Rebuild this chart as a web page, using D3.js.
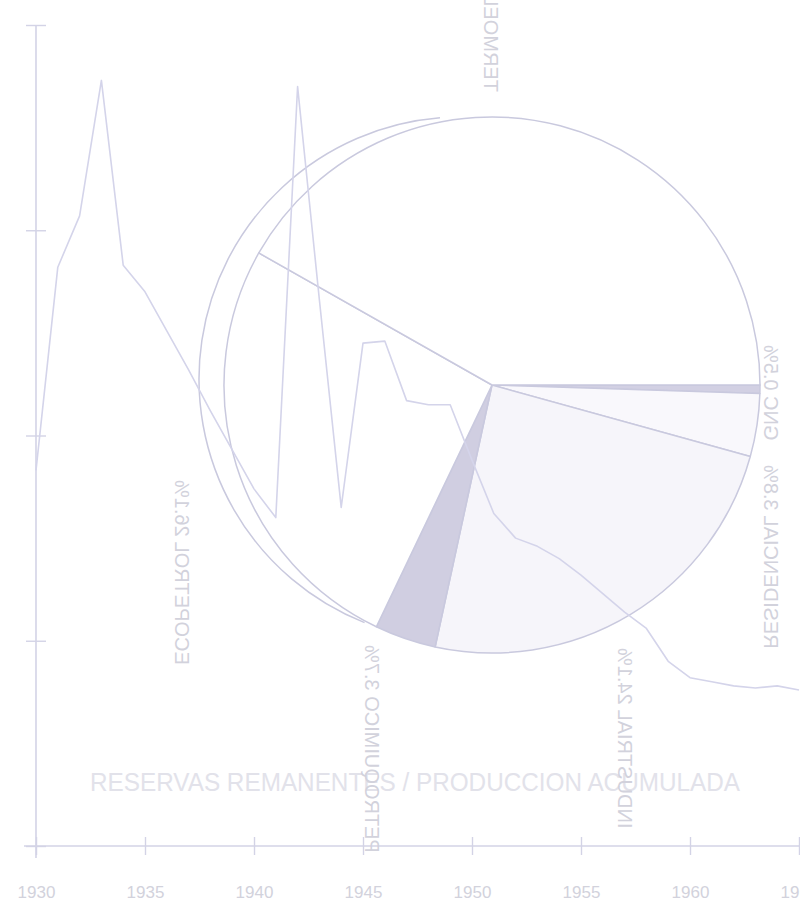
<!DOCTYPE html>
<html>
<head>
<meta charset="utf-8">
<script src="https://cdn.jsdelivr.net/npm/d3@7"></script>
<style>
  html, body { margin: 0; padding: 0; background: #ffffff; }
  svg { display: block; }
</style>
</head>
<body>
<svg id="chart" width="800" height="910"></svg>
<script>
// ---------- DATA ----------
const years = [1930,1931,1932,1933,1934,1935,1936,1937,1938,1939,1940,1941,1942,1943,1944,1945,1946,1947,
               1948,1949,1950,1951,1952,1953,1954,1955,1956,1957,1958,1959,1960,1961,1962,1963,1964,1965];
const ratio = [18.3,28.2,30.7,37.3,28.3,27.0,25.1,23.2,21.2,19.3,17.4,16.0,37.0,26.6,16.5,24.5,24.6,21.7,
               21.5,21.5,18.8,16.2,15.0,14.6,14.0,13.2,12.3,11.4,10.6,9.0,8.2,8.0,7.8,7.7,7.8,7.6];
const xTickYears = [1930,1935,1940,1945,1950,1955,1960,1965];
const xTickLabels = ["1930","1935","1940","1945","1950","1955","1960","1965"];
const yTicks = [0,10,20,30,40];
const lineTitle = "RESERVAS REMANENTES / PRODUCCION ACUMULADA";

const sectors = ["GNC","RESIDENCIAL","INDUSTRIAL","PETROQUIMICO","ECOPETROL","TERMOELECTRICO"];
const shares  = [0.5, 3.8, 24.1, 3.7, 26.1, 41.8];

// ---------- STYLE / LAYOUT ----------
const svg = d3.select("#chart");
const axisColor = "#d3d3e6";
const lineColor = "#d4d4ea";
const pieStroke = "#c9c9de";
const textColor = "#d2d2dc";
const font = "'Liberation Sans', Arial, sans-serif";

const x = d3.scaleLinear().domain([1930, 1965]).range([36, 799]);
const y = d3.scaleLinear().domain([0, 40]).range([846, 25]);

// ---------- LINE CHART AXES ----------
const gx = svg.append("g").attr("transform", `translate(0,${y(0)})`)
  .call(d3.axisBottom(x).tickValues(xTickYears).tickFormat((d, i) => xTickLabels[i]).tickSizeOuter(0));
gx.select(".domain").attr("stroke", axisColor).attr("stroke-width", 1.6)
  .attr("d", `M${x(1930) - 12},0H800`);
gx.selectAll(".tick line").attr("stroke", axisColor).attr("stroke-width", 1.4).attr("y1", -9).attr("y2", 9);
gx.selectAll(".tick text").attr("fill", textColor).attr("font-size", 17)
  .attr("font-family", font).attr("y", 40);

const gy = svg.append("g").attr("transform", `translate(${x(1930)},0)`)
  .call(d3.axisLeft(y).tickValues(yTicks).tickFormat("").tickSizeOuter(0));
gy.select(".domain").attr("stroke", axisColor).attr("stroke-width", 1.6)
  .attr("d", `M0,${y(40)}V${y(0) + 12}`);
gy.selectAll(".tick line").attr("stroke", axisColor).attr("stroke-width", 1.4).attr("x1", -10).attr("x2", 10);

// ---------- PIE ----------
const cx = 492, cy = 385, R = 268;
const pieData = sectors.map((s, i) => ({ name: s, value: shares[i] }));
const pie = d3.pie().value(d => d.value).sort(null)
  .startAngle(Math.PI / 2).endAngle(Math.PI / 2 + 2 * Math.PI);
const arcs = pie(pieData);
const arc = d3.arc().innerRadius(0).outerRadius(R);
const fills = {
  GNC: "#cdcbe0", RESIDENCIAL: "#f8f7fc", INDUSTRIAL: "#f5f4fa",
  PETROQUIMICO: "#cbc9de", ECOPETROL: "#ffffff", TERMOELECTRICO: "#ffffff"
};

// ghost outer arc (double outline on the left side)
const ghostArc = d3.arc().innerRadius(262).outerRadius(262)
  .startAngle(201.6 * Math.PI / 180).endAngle(355.4 * Math.PI / 180);
svg.append("path").attr("transform", `translate(461,379)`)
  .attr("d", ghostArc()).attr("fill", "none").attr("stroke", pieStroke).attr("stroke-width", 1.5);

const gp = svg.append("g").attr("transform", `translate(${cx},${cy})`);
gp.selectAll("path.slice").data(arcs).join("path").attr("class", "slice")
  .attr("d", arc)
  .attr("fill", d => fills[d.data.name])
  .attr("fill-opacity", 0.9)
  .attr("stroke", pieStroke).attr("stroke-width", 1.5).attr("stroke-linejoin", "round");

// ---------- LINE (drawn over pie as in the overlaid scan) ----------
const line = d3.line().x((d, i) => x(years[i])).y(d => y(d));
svg.append("path").datum(ratio).attr("d", line)
  .attr("fill", "none").attr("stroke", lineColor).attr("stroke-width", 1.6).attr("stroke-linejoin", "round");

// ---------- TEXTS ----------
svg.append("text").text(lineTitle)
  .attr("x", 415).attr("y", 791).attr("text-anchor", "middle")
  .attr("font-family", font).attr("font-size", 25)
  .attr("textLength", 650).attr("lengthAdjust", "spacingAndGlyphs")
  .attr("fill", "#e2e2ea");

// mirrored, rotated pie labels (show-through)
const labelPos = [
  { name: "GNC",            px: 771, py: 345, anchor: "end" },
  { name: "RESIDENCIAL",    px: 771, py: 465, anchor: "end" },
  { name: "INDUSTRIAL",     px: 625, py: 648, anchor: "end" },
  { name: "PETROQUIMICO",   px: 372, py: 645, anchor: "end" },
  { name: "ECOPETROL",      px: 182, py: 480, anchor: "end" },
  { name: "TERMOELECTRICO", px: 491, py: 92,  anchor: "start" }
];
labelPos.forEach(l => {
  const i = sectors.indexOf(l.name);
  svg.append("text")
    .attr("transform", `translate(${l.px},${l.py}) rotate(-90) scale(1,-1)`)
    .attr("text-anchor", l.anchor)
    .attr("dominant-baseline", "central")
    .attr("font-family", font).attr("font-size", 20)
    .attr("fill", textColor)
    .text(`${sectors[i]} ${shares[i].toFixed(1)}%`);
});
</script>
</body>
</html>
